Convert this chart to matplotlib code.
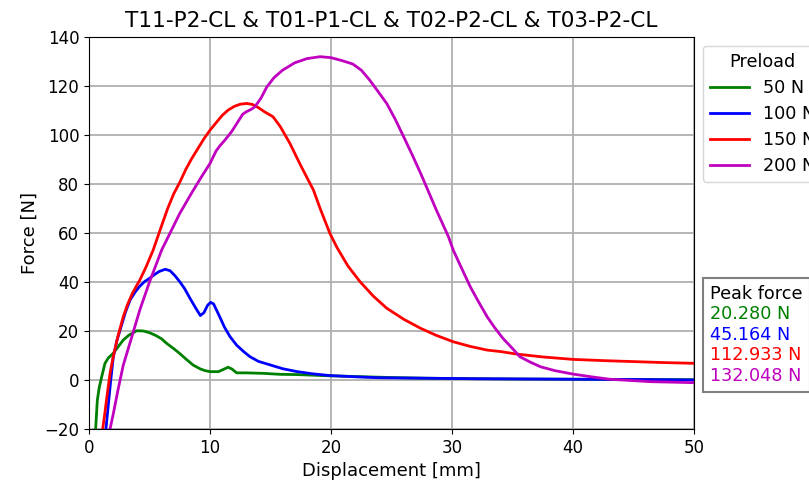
import matplotlib
matplotlib.use('Agg')
from matplotlib import pyplot as plt
from matplotlib.lines import Line2D

TITLE = 'T11-P2-CL & T01-P1-CL & T02-P2-CL & T03-P2-CL'
PRELOADS = ['50 N', '100 N', '150 N', '200 N']
PEAKS = [20.280, 45.164, 112.933, 132.048]
COLORS = ['green', 'blue', 'red', 'm']

# 50 N
x_50 = [0.55, 0.69, 0.85, 1.05, 1.32, 1.6, 2.0, 2.4, 2.83, 3.3, 3.94, 4.5, 5.0, 5.5, 6.0, 6.4,
        7.0, 7.5, 8.0, 8.6, 9.2, 9.6, 10.0, 10.4, 10.7, 11.1, 11.5, 11.8, 12.2, 13.0, 14.4,
        15.8, 17.2, 19.9, 22, 25, 28, 30, 35, 40, 45, 50]
f_50 = [-20, -8.2, -3, 1.3, 6.8, 9, 10.9, 13.5, 16.3, 18.3, 20.1, 20.0, 19.3, 18.2, 16.8, 15.0,
        12.8, 10.8, 8.6, 6.1, 4.5, 3.8, 3.4, 3.4, 3.4, 4.3, 5.2, 4.5, 2.9, 2.9, 2.7,
        2.3, 2.2, 1.7, 1.4, 1.0, 0.7, 0.6, 0.4, 0.3, 0.2, 0.1]

# 100 N
x_100 = [1.4, 1.6, 1.8, 2.0, 2.3, 2.7, 3.0, 3.4, 3.8, 4.2, 4.6, 5.0, 5.4, 5.8, 6.3, 6.7,
         7.1, 7.5, 7.9, 8.35, 8.8, 9.2, 9.5, 9.8, 10.05, 10.3, 10.8, 11.2, 11.65, 12.2,
         12.8, 13.3, 14.0, 15.0, 16.0, 17.2, 18.5, 19.9, 22, 24, 28.2, 32, 36, 40, 45, 50]
f_100 = [-20, -10, 0, 9, 16, 22.5, 27.5, 32.7, 35.8, 38.3, 40.2, 41.5, 43, 44.3, 45.2, 44.6,
         42.6, 40.1, 37.3, 33.3, 29.5, 26.3, 27.5, 30.5, 31.7, 31.0, 25.8, 21.5, 17.7, 14.2,
         11.5, 9.5, 7.6, 6.1, 4.6, 3.4, 2.5, 1.8, 1.3, 0.9, 0.7, 0.5, 0.4, 0.3, 0.2, 0.0]

# 150 N
x_150 = [1.13, 1.3, 1.45, 1.75, 2.0, 2.4, 2.83, 3.2, 3.6, 4.2, 4.7, 5.3, 6.0, 6.5, 7.0, 7.52,
         8.0, 8.5, 9.0, 9.5, 10.0, 10.5, 11.0, 11.5, 12.0, 12.5, 13.03, 13.5, 14.0, 14.5,
         15.2, 15.8, 16.6, 17.5, 18.54, 19.1, 19.9, 20.5, 21.4, 22.4, 23.5, 24.6, 26.0,
         27.4, 28.7, 30.1, 31.5, 32.9, 34.0, 35.3, 37.5, 40.0, 42.5, 45.0, 47.5, 50.0]
f_150 = [-20, -14, -8, 3, 9.5, 18, 25.8, 31, 35.5, 40.8, 46, 53, 63, 70, 76, 80.9,
         86, 90.5, 94.5, 98.5, 102, 105, 108, 110.2, 111.7, 112.6, 112.9, 112.5, 111.2, 109.5,
         107.5, 103.5, 96.6, 87.5, 77.6, 70, 59.9, 54, 46.5, 40.1, 34.2, 29.3, 24.8,
         21.1, 18.2, 15.6, 13.7, 12.2, 11.6, 10.6, 9.4, 8.4, 7.9, 7.5, 7.1, 6.8]

# 200 N
x_200 = [1.74, 2.0, 2.4, 2.83, 3.5, 4.2, 5.0, 6.0, 6.8, 7.5, 8.5, 9.3, 10.0, 10.5, 10.8, 11.24,
         11.8, 12.3, 12.7, 13.0, 13.4, 13.7, 14.2, 14.7, 15.3, 16.0, 17.0, 18.0, 19.1, 20.0,
         20.9, 21.8, 22.5, 23.2, 24.0, 24.6, 25.3, 26.0, 26.7, 27.4, 28.0, 28.7, 29.7,
         30.1, 30.8, 31.5, 32.2, 32.9, 33.5, 34.2, 35.0, 35.6, 36.5, 37.3, 38.5, 40.0,
         41.5, 43.0, 46.4, 50.0]
f_200 = [-20, -14, -4, 6, 17, 28.6, 40, 53, 61, 68, 76.5, 83, 88.4, 93.5, 95.5, 98,
         101.5, 105.4, 108.5, 109.5, 110.5, 111.5, 115, 119.7, 123.5, 126.5, 129.5, 131.2, 132.0, 131.6,
         130.4, 129.0, 126.5, 122.4, 117, 112.9, 106.5, 99.3, 92, 84.4, 77.5, 69.4, 58.5,
         53, 45.5, 38.1, 31.8, 25.8, 21.5, 17, 12.8, 9.5, 7.2, 5.4, 3.8, 2.4,
         1.3, 0.3, -0.7, -1.1]

XS = [x_50, x_100, x_150, x_200]
FS = [f_50, f_100, f_150, f_200]

plt.rcParams['font.size'] = 12

fig = plt.figure(figsize=(8.09, 4.88), dpi=100)
ax = fig.add_axes([0.110, 0.121, 0.748, 0.803])

for x, f, c, lab in zip(XS, FS, COLORS, PRELOADS):
    ax.plot(x, f, color=c, lw=2, label=lab)

ax.set_xlim(0, 50)
ax.set_ylim(-20, 140)
ax.set_xticks([0, 10, 20, 30, 40, 50])
ax.set_yticks(range(-20, 141, 20))
ax.grid(True, color='#b0b0b0', lw=1.3)
ax.set_xlabel('Displacement [mm]', fontsize=13)
ax.set_ylabel('Force [N]', fontsize=13)
ax.set_title(TITLE, fontsize=15.6, pad=7)

# legend runs off the right edge, same as the original
leg1 = ax.legend(title='Preload', loc='upper left', bbox_to_anchor=(1.0, 1.0), fontsize=12.7,
                 title_fontsize=12.7, handlelength=2.2, labelspacing=0.45)
ax.add_artist(leg1)

blank = [Line2D([], [], lw=0) for _ in range(len(PEAKS) + 1)]
labels = ['Peak force'] + [f'{p:.3f} N' for p in PEAKS]
leg2 = ax.legend(blank, labels, loc='upper left', bbox_to_anchor=(1.0, 0.408), fontsize=12.7,
                 handlelength=0, handletextpad=0, labelspacing=0.14, fancybox=False,
                 edgecolor='gray', framealpha=1, labelcolor=['black'] + COLORS)
leg2.get_frame().set_linewidth(1.5)

plt.savefig('out.png', dpi=100)
plt.close()
